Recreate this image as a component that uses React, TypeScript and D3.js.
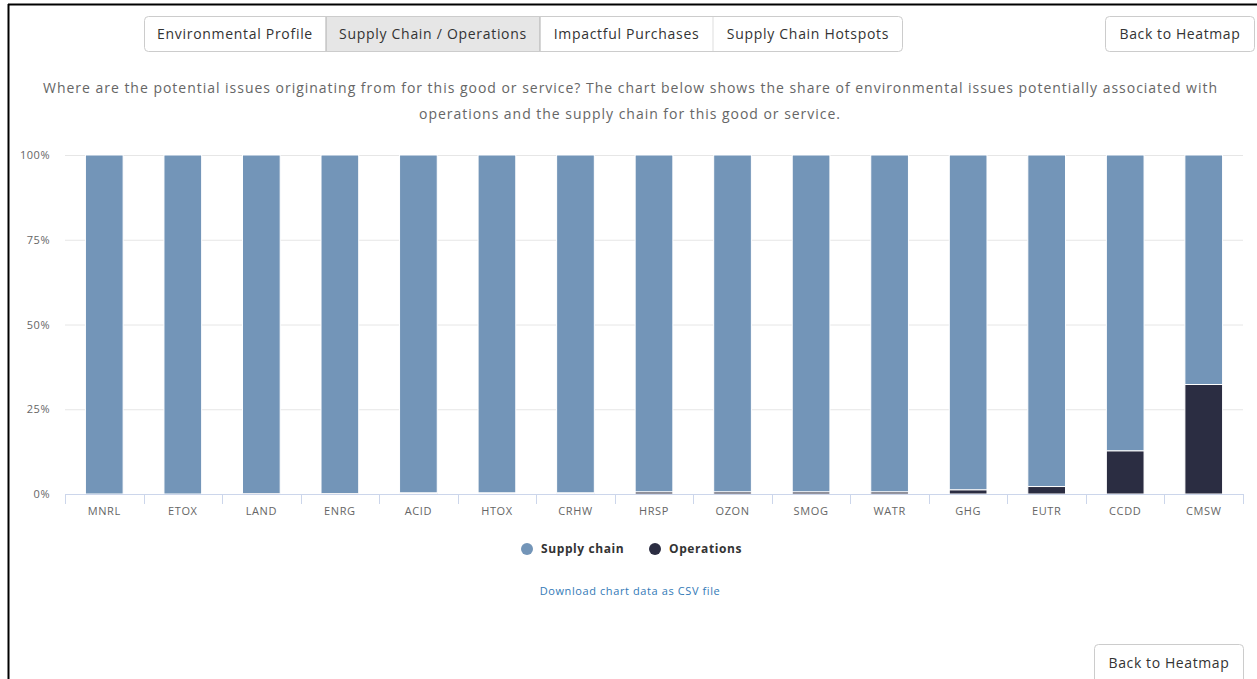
import React from 'react';
import * as d3 from 'd3';

const categories = ['MNRL', 'ETOX', 'LAND', 'ENRG', 'ACID', 'HTOX', 'CRHW', 'HRSP', 'OZON', 'SMOG', 'WATR', 'GHG', 'EUTR', 'CCDD', 'CMSW'];
// share (%) of issues coming from operations; supply chain is the rest
const operations = [0, 0, 0.05, 0.1, 0.3, 0.3, 0.3, 0.6, 0.6, 0.6, 0.6, 1.2, 2.2, 12.7, 32.3];
const supplyChain = operations.map(v => 100 - v);
const yTicks = [0, 25, 50, 75, 100];
const tabs = ['Environmental Profile', 'Supply Chain / Operations', 'Impactful Purchases', 'Supply Chain Hotspots'];
const seriesNames = ['Supply chain', 'Operations'];

const W = 1257;
const H = 679;
const FONT = '"Open Sans", "Noto Sans", sans-serif';
const colors = { supply: '#7395b8', ops: '#2b2d42' };

const App = () => {
  const margin = { top: 155, left: 65, right: 14, bottom: 185 };
  const plotW = W - margin.left - margin.right;
  const plotH = H - margin.top - margin.bottom;

  const x = d3.scaleBand().domain(categories).range([0, plotW]).paddingInner(0.52).paddingOuter(0.26);
  const y = d3.scaleLinear().domain([0, 100]).range([plotH, 0]);
  const step = plotW / categories.length;

  // tab edges (measured from reference)
  const tabEdges = [144, 326, 540, 713, 903];

  return (
    <div style={{ position: 'absolute', left: 0, top: 0 }}>
      <svg width={W} height={H} style={{ display: 'block', fontFamily: FONT }}>
        <rect width={W} height={H} fill="#fff" />
        {/* page frame */}
        <line x1={8.5} y1={4} x2={8.5} y2={H} stroke="#000" strokeWidth={2} />
        <line x1={8} y1={4.5} x2={W} y2={4.5} stroke="#000" strokeWidth={2} />

        {/* tab buttons */}
        <rect x={144.5} y={16.5} width={758} height={35} rx={4} fill="#fff" stroke="#ccc" />
        <rect x={326} y={17} width={214} height={34} fill="#e6e6e6" />
        {tabs.map((t, i) => (
          <g key={t}>
            {i > 0 && <line x1={tabEdges[i]} y1={17} x2={tabEdges[i]} y2={51} stroke={i === 1 || i === 2 ? '#adadad' : '#ddd'} />}
            <text x={(tabEdges[i] + tabEdges[i + 1]) / 2} y={39} textAnchor="middle" fontSize={14} letterSpacing={0.7} fill="#333">{t}</text>
          </g>
        ))}
        <rect x={1105.5} y={16.5} width={149} height={35} rx={4} fill="#fff" stroke="#ccc" />
        <text x={1180} y={39} textAnchor="middle" fontSize={14} letterSpacing={0.6} fill="#333">Back to Heatmap</text>

        {/* description */}
        <text x={43} y={93} fontSize={14} fill="#666" textLength={1174} lengthAdjust="spacing">
          Where are the potential issues originating from for this good or service? The chart below shows the share of environmental issues potentially associated with
        </text>
        <text x={419} y={119} fontSize={14} fill="#666" textLength={421} lengthAdjust="spacing">
          operations and the supply chain for this good or service.
        </text>

        <g transform={`translate(${margin.left},${margin.top})`}>
          {/* grid */}
          {yTicks.map(t => (
            <g key={t}>
              {t > 0 && <line x1={0} x2={plotW} y1={y(t) + 0.5} y2={y(t) + 0.5} stroke="#e6e6e6" />}
              <text x={-15} y={y(t) + 4} textAnchor="end" fontSize={11} letterSpacing={0.5} fill="#666">{t}%</text>
            </g>
          ))}

          {/* stacked bars */}
          {categories.map((c, i) => {
            const bx = x(c) as number;
            const bw = x.bandwidth();
            return (
              <g key={c}>
                <rect x={bx} y={y(100)} width={bw} height={y(100 - supplyChain[i]) - y(100)} fill={colors.supply} stroke="#fff" strokeWidth={1} />
                {operations[i] > 0 && (
                  <rect x={bx} y={y(operations[i])} width={bw} height={y(0) - y(operations[i])} fill={colors.ops} stroke="#fff" strokeWidth={1} />
                )}
              </g>
            );
          })}

          {/* x axis */}
          <line x1={0} x2={plotW} y1={plotH + 0.5} y2={plotH + 0.5} stroke="#ccd6eb" />
          {d3.range(categories.length + 1).map(i => (
            <line key={i} x1={Math.round(i * step) + 0.5} x2={Math.round(i * step) + 0.5} y1={plotH} y2={plotH + 10} stroke="#ccd6eb" />
          ))}
          {categories.map(c => (
            <text key={c} x={(x(c) as number) + x.bandwidth() / 2} y={plotH + 21} textAnchor="middle" fontSize={11} letterSpacing={0.6} fill="#666">{c}</text>
          ))}
        </g>

        {/* legend */}
        {seriesNames.map((s, i) => {
          const lx = i === 0 ? 527 : 655;
          return (
            <g key={s}>
              <circle cx={lx} cy={549} r={6} fill={i === 0 ? colors.supply : colors.ops} />
              <text x={lx + 14} y={553} fontSize={12} fontWeight="bold" letterSpacing={0.6} fill="#333">{s}</text>
            </g>
          );
        })}

        <text x={630} y={595} textAnchor="middle" fontSize={11} letterSpacing={0.6} fill="#337ab7">Download chart data as CSV file</text>

        <rect x={1094.5} y={644.5} width={149} height={40} rx={4} fill="#fff" stroke="#ccc" />
        <text x={1169} y={668} textAnchor="middle" fontSize={14} letterSpacing={0.6} fill="#333">Back to Heatmap</text>
      </svg>
    </div>
  );
};

export default App;
